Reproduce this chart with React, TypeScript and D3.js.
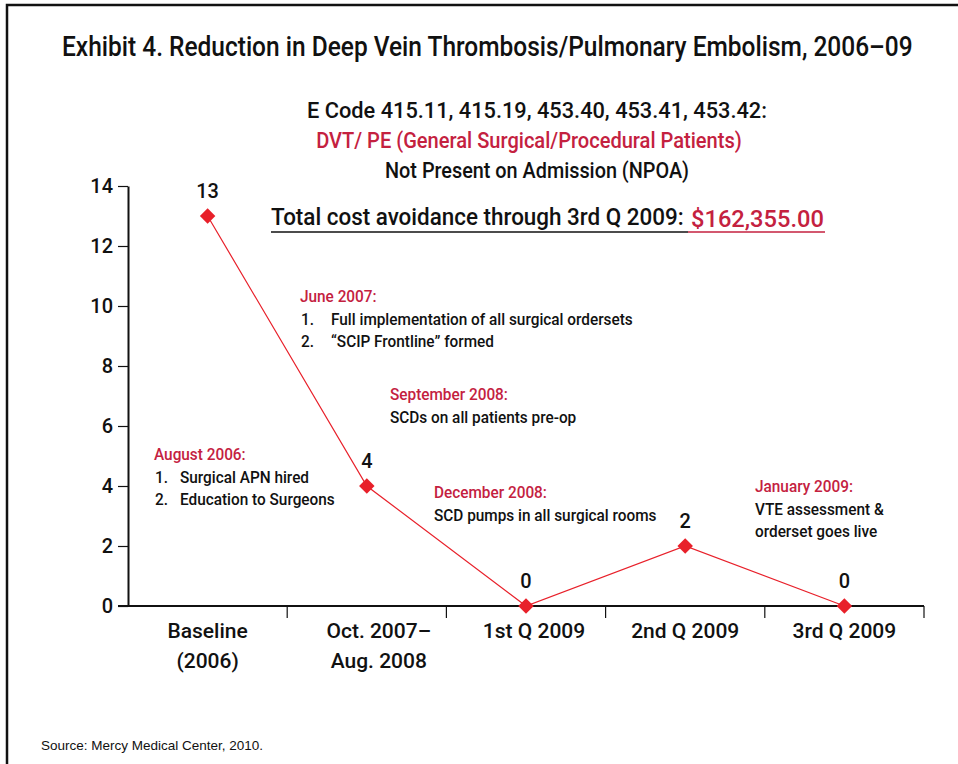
import React, { useEffect, useRef } from 'react'
import * as d3 from 'd3'

const categories = ['Baseline|(2006)', 'Oct. 2007–|Aug. 2008', '1st Q 2009', '2nd Q 2009', '3rd Q 2009']
const cases = [13, 4, 0, 2, 0]
const yTicks = [0, 2, 4, 6, 8, 10, 12, 14]

const notes = [
  { head: 'August 2006:', lines: ['1.|Surgical APN hired', '2.|Education to Surgeons'], x: 154, y: 460, gap: 26 },
  { head: 'June 2007:', lines: ['1.|Full implementation of  all surgical ordersets', '2.|“SCIP Frontline” formed'], x: 300, y: 302, gap: 31 },
  { head: 'September 2008:', lines: ['SCDs on all patients pre-op'], x: 390, y: 400, gap: 0 },
  { head: 'December 2008:', lines: ['SCD pumps in all surgical rooms'], x: 434, y: 498, gap: 0 },
  { head: 'January 2009:', lines: ['VTE assessment &', 'orderset goes live'], x: 755, y: 492, gap: 0 },
]

const RED = '#c4213f'
const FONT = 'Roboto, "Noto Sans", sans-serif'

export default function App() {
  const ref = useRef<SVGSVGElement>(null)

  useEffect(() => {
    const svg = d3.select(ref.current)
    svg.selectAll('*').remove()

    // condensed-looking text: squeeze horizontally
    const T = (x: number, y: number, s: string, size: number, fill = '#111', anchor = 'start', sx = 0.96) =>
      svg.append('text').attr('transform', `translate(${x},${y}) scale(${sx},1)`)
        .attr('text-anchor', anchor).attr('font-family', FONT).attr('font-weight', 500)
        .attr('font-size', size).attr('fill', fill).text(s)
    // text squeezed to a given width
    const W = (x: number, y: number, s: string, size: number, w: number, fill = '#111', anchor = 'start') => {
      const t = T(x, y, s, size, fill, anchor, 1)
      const len = (t.node() as SVGTextElement).getComputedTextLength() || w
      t.attr('transform', `translate(${x},${y}) scale(${w / len},1)`)
      return t
    }

    // frame
    svg.append('path').attr('d', 'M7,764 V5 H958').attr('fill', 'none').attr('stroke', '#111').attr('stroke-width', 2.5)

    W(62, 56, 'Exhibit 4. Reduction in Deep Vein Thrombosis/Pulmonary Embolism, 2006–09', 27, 851)

    W(537, 118, 'E Code 415.11, 415.19, 453.40, 453.41, 453.42:', 22, 460, '#111', 'middle')
    W(529, 148, 'DVT/ PE (General Surgical/Procedural Patients)', 22, 426, RED, 'middle')
    W(537, 178, 'Not Present on Admission (NPOA)', 22, 304, '#111', 'middle')

    W(271, 225, 'Total cost avoidance through 3rd Q 2009:', 24, 413)
    W(691, 227, '$162,355.00', 24, 133, RED)
    svg.append('line').attr('x1', 271).attr('x2', 688).attr('y1', 232).attr('y2', 232).attr('stroke', '#111').attr('stroke-width', 1.5)
    svg.append('line').attr('x1', 688).attr('x2', 825).attr('y1', 232).attr('y2', 232).attr('stroke', RED).attr('stroke-width', 1.5)

    const x = d3.scaleBand<string>().domain(categories).range([128, 924])
    const y = d3.scaleLinear().domain([0, 14]).range([606, 186])

    // y axis
    const ya = svg.append('g').attr('transform', 'translate(128,0)')
      .call(d3.axisLeft(y).tickValues(yTicks).tickSize(10).tickSizeOuter(0).tickFormat(() => ''))
    ya.select('.domain').attr('stroke', '#111').attr('stroke-width', 2)
    ya.selectAll('.tick line').attr('stroke', '#111').attr('stroke-width', 1.2)
    yTicks.forEach(v => T(113, y(v) + 7, String(v), 21, '#111', 'end', 0.95))

    // x axis
    svg.append('line').attr('x1', 118).attr('x2', 924).attr('y1', y(0)).attr('y2', y(0)).attr('stroke', '#111').attr('stroke-width', 2)
    const bounds = categories.map(c => (x(c) as number) + x.bandwidth())
    svg.selectAll('.xt').data(bounds).join('line').attr('class', 'xt')
      .attr('x1', d => d).attr('x2', d => d).attr('y1', y(0)).attr('y2', y(0) + 12)
      .attr('stroke', '#111').attr('stroke-width', 1.2)
    categories.forEach((c, k) => {
      const cx = (x(c) as number) + x.bandwidth() / 2 + (k === 1 ? 12 : k === 2 ? 8 : 0)
      c.split('|').forEach((ln, i) => T(cx, 638 + i * 30, ln, 21, '#111', 'middle', 1.0))
    })

    const px = (i: number) => (x(categories[i]) as number) + x.bandwidth() / 2
    const line = d3.line<number>().x((_, i) => px(i)).y(d => y(d))
    svg.append('path').attr('d', line(cases)).attr('fill', 'none').attr('stroke', '#e8202a').attr('stroke-width', 1.2)

    svg.selectAll('.pt').data(cases).join('path').attr('class', 'pt')
      .attr('d', d3.symbol(d3.symbolSquare, 120)())
      .attr('transform', (d, i) => `translate(${px(i)},${y(d)}) rotate(45)`)
      .attr('fill', '#e8202a')

    cases.forEach((d, i) => T(px(i), y(d) - 18, String(d), 21, '#111', 'middle', 0.95))

    notes.forEach(n => {
      T(n.x, n.y, n.head, 16, RED)
      n.lines.forEach((ln, i) => {
        const parts = ln.split('|')
        const ly = n.y + 23 + i * 22
        if (parts.length === 2) {
          T(n.x + 1, ly, parts[0], 16)
          T(n.x + n.gap, ly, parts[1], 16)
        } else {
          T(n.x, ly, ln, 16)
        }
      })
    })

    svg.append('text').attr('x', 41).attr('y', 750).attr('font-family', '"Liberation Sans", Arial, sans-serif')
      .attr('font-size', 13.5).attr('fill', '#111').text('Source: Mercy Medical Center, 2010.')
  }, [])

  return (
    <svg ref={ref} width={958} height={764} style={{ position: 'absolute', left: 0, top: 0, background: '#fff' }} />
  )
}
